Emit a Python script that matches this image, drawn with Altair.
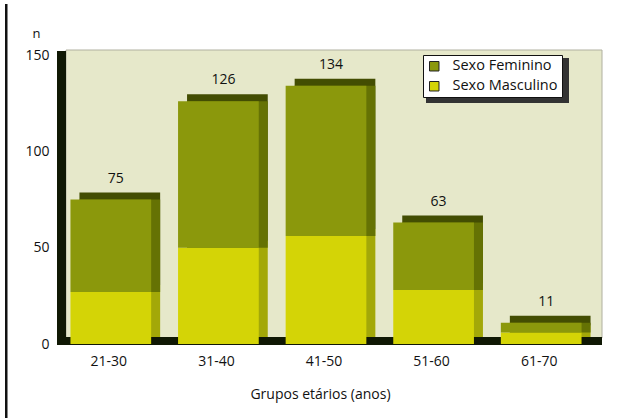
import altair as alt
import pandas as pd

# Age groups and counts per sex
grupos = ["21-30", "31-40", "41-50", "51-60", "61-70"]
feminino = [48, 76, 78, 35, 5]
masculino = [27, 50, 56, 28, 6]
series = ["Sexo Feminino", "Sexo Masculino"]

FONT = "Open Sans"
C_FEM = "#8b980c"
C_MASC = "#d4d406"
C_FEM_TOP = "#434d02"
C_FEM_SIDE = "#657204"
C_MASC_SIDE = "#a3a808"
C_PANEL = "#e6e8ca"
C_DARK = "#101804"

# long table: stacked segments, Masculino at the bottom
rows = []
for g, f, m in zip(grupos, feminino, masculino):
    rows.append({"grupo": g, "sexo": series[1], "ini": 0, "fim": m})
    rows.append({"grupo": g, "sexo": series[0], "ini": m, "fim": m + f})
seg = pd.DataFrame(rows)
tot = pd.DataFrame({"grupo": grupos,
                    "total": [f + m for f, m in zip(feminino, masculino)]})

# page and plot geometry
PAGE_W, PAGE_H = 620, 418
PAD_L, PAD_T, PAD_R = 57, 48, 18
PAD_B = PAGE_H - PAD_T - 297
W, H = PAGE_W - PAD_L - PAD_R, 297
DX, DY = 9, -7  # depth of the pseudo-3D extrusion

x_scale = alt.Scale(domain=grupos, range=[0, 538], paddingInner=0.25, paddingOuter=0.125)
y_scale = alt.Scale(domain=[0, 150], range=[296, 7], nice=False)

x_axis = alt.Axis(domain=False, ticks=False, tickSize=0, labelAngle=0, labelPadding=9,
                  labelFontSize=14, labelFont=FONT, labelColor="#111", labelOffset=-2,
                  title="Grupos etários (anos)", titleFont=FONT, titleFontSize=14,
                  titleFontWeight="normal", titleColor="#111",
                  titleX=263, titleY=49, titleBaseline="middle", titleAlign="center")
y_axis = alt.Axis(domain=False, ticks=False, tickSize=0, grid=False,
                  values=[0, 50, 100, 150], labelPadding=8, labelFontSize=14,
                  labelFont=FONT, labelColor="#111",
                  title="n", titleAngle=0, titleX=-21, titleY=-15,
                  titleAlign="center", titleBaseline="middle", titleFont=FONT,
                  titleFontSize=13, titleFontWeight="normal", titleColor="#111")

x_enc = alt.X("grupo:N", scale=x_scale, sort=grupos, axis=x_axis)
y_enc = alt.Y("ini:Q", scale=y_scale, axis=y_axis)

one = alt.Data(values=[{"k": 1}])


def box(x0, x1, y0, y1, color, **kw):
    """Plain filled rectangle in view pixels (box furniture, frame, shadow)."""
    return alt.Chart(one).mark_rect(fill=color, **kw).encode(
        x=alt.value(x0), x2=alt.value(x1), y=alt.value(y0), y2=alt.value(y1))


# back panel, left wall and floor of the 3D box
panel = box(9, W, 2, 290, C_PANEL, stroke="#b0b0a0", strokeWidth=1)
wall = box(0, 9, 3, H, C_DARK)
floor = box(0, W, 289, H, C_DARK)

# legend drop shadow
legend_shadow = box(369, 512, 10, 55, "#333")

base = alt.Chart(seg)

shadow_m = base.transform_filter(alt.datum.sexo == series[1]).mark_bar(
    color=C_MASC_SIDE, xOffset=DX, yOffset=DY, y2Offset=DY).encode(
    x=x_enc, y=y_enc, y2="fim:Q")
shadow_f = base.transform_filter(alt.datum.sexo == series[0]).mark_bar(
    color=C_FEM_TOP, xOffset=DX, yOffset=DY, y2Offset=DY).encode(
    x=x_enc, y=y_enc, y2="fim:Q")
side_f = base.transform_filter(alt.datum.sexo == series[0]).mark_bar(
    color=C_FEM_SIDE, xOffset=DX).encode(
    x=x_enc, y=y_enc, y2="fim:Q")

front = base.mark_bar().encode(
    x=x_enc, y=y_enc, y2="fim:Q",
    color=alt.Color("sexo:N", scale=alt.Scale(domain=series, range=[C_FEM, C_MASC]),
                    legend=alt.Legend(title=None, orient="none", legendX=366, legendY=7,
                                      fillColor="white", strokeColor="#111", padding=4,
                                      symbolType="square", symbolSize=90,
                                      symbolStrokeColor="#222", symbolStrokeWidth=1,
                                      labelFont=FONT, labelFontSize=14.5, labelColor="#111",
                                      labelOffset=11, rowPadding=5)))

labels = alt.Chart(tot).mark_text(font=FONT, fontSize=14, color="#111", dx=5, dy=-21,
                                  baseline="middle").encode(
    x=alt.X("grupo:N", scale=x_scale, sort=grupos),
    y=alt.Y("total:Q", scale=y_scale),
    text="total:Q")

# left edge of the page frame (drawn outside the plot area)
frame_left = box(5 - PAD_L, 7.5 - PAD_L, 4 - PAD_T, PAGE_H - PAD_T, "#111")

chart = alt.layer(
    panel, wall, floor, legend_shadow, shadow_m, shadow_f, side_f, front, labels,
    frame_left
).properties(
    width=W, height=H, background="white",
    padding={"left": PAD_L, "top": PAD_T, "right": PAD_R, "bottom": PAD_B},
    autosize=alt.AutoSizeParams(type="none")
).configure_view(stroke=None)

chart.save("out.html", embed_options={"renderer": "svg", "actions": False})
